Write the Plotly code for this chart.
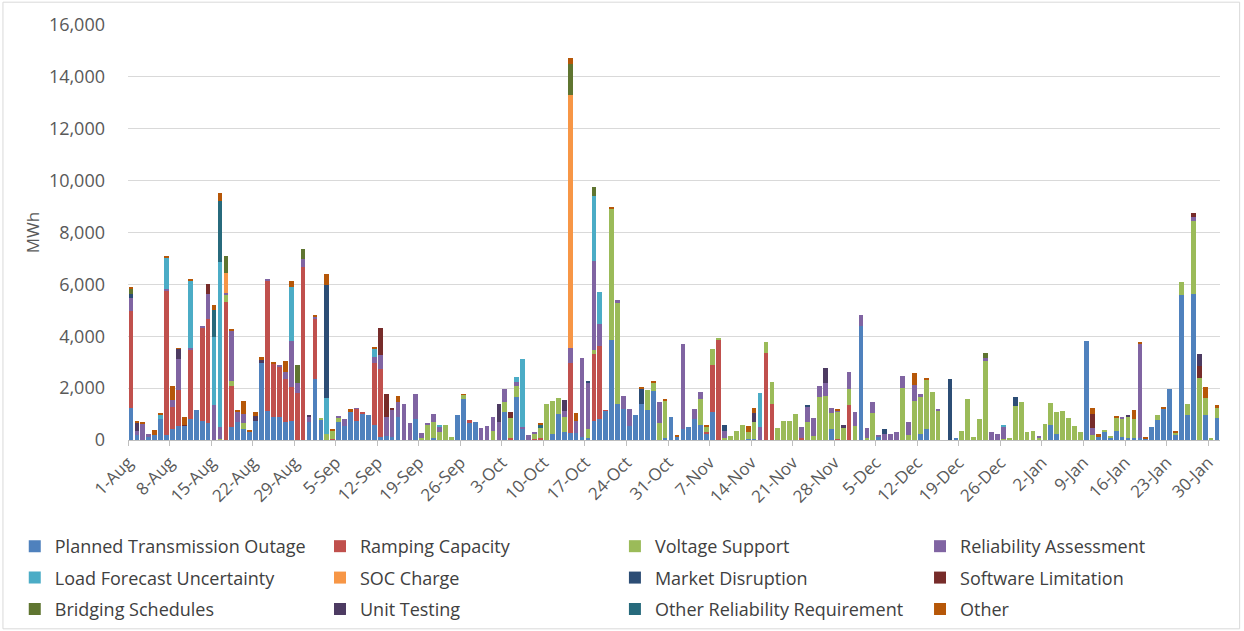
import pandas as pd
import plotly.graph_objects as go

# Daily dates, 1-Aug to 31-Jan (184 days)
dates = pd.date_range("2022-08-01", "2023-01-31", freq="D")

series_names = [
    "Planned Transmission Outage", "Ramping Capacity", "Voltage Support", "Reliability Assessment",
    "Load Forecast Uncertainty", "SOC Charge", "Market Disruption", "Software Limitation",
    "Bridging Schedules", "Unit Testing", "Other Reliability Requirement", "Other",
]
series_colors = [
    "#4F81BD", "#C0504D", "#9BBB59", "#8064A2", "#4BACC6", "#F79646",
    "#2C4D75", "#772C2A", "#5F7530", "#4D3B62", "#276A7C", "#B65708",
]

planned_transmission_outage = [
    1250, 200, 0, 100, 200, 800, 200,
    410, 550, 550, 800, 1160, 745, 640,
    0, 0, 0, 515, 700, 410, 330,
    745, 2980, 1120, 870, 870, 700, 745,
    0, 0, 700, 2350, 800, 0, 0,
    700, 540, 1070, 745, 1030, 950, 580,
    130, 170, 130, 870, 0, 0, 800,
    0, 0, 90, 0, 0, 0, 950,
    1570, 670, 700, 0, 0, 0, 0,
    1090, 0, 1645, 425, 0, 0, 0,
    0, 250, 990, 300, 280, 280, 130,
    90, 730, 800, 1120, 3855, 1375, 1195,
    550, 950, 1375, 1155, 1900, 0, 90,
    900, 100, 425, 490, 820, 580, 230,
    1090, 0, 0, 0, 0, 0, 50,
    40, 0, 0, 0, 0, 0, 0,
    0, 0, 0, 0, 0, 0, 410,
    0, 0, 0, 0, 4395, 0, 0,
    100, 0, 0, 0, 0, 0, 0,
    230, 425, 0, 0, 0, 0, 40,
    0, 0, 0, 0, 0, 0, 0,
    0, 0, 0, 0, 0, 0, 0,
    0, 580, 230, 0, 0, 0, 0,
    3830, 0, 100, 320, 90, 360, 100,
    90, 90, 60, 60, 515, 770, 1220,
    1965, 220, 5590, 965, 5630, 0, 965,
    0, 835,
]
ramping_capacity = [
    3720, 0, 0, 0, 0, 0, 5580,
    875, 1380, 0, 2670, 0, 3600, 4010,
    0, 0, 5330, 1565, 0, 0, 0,
    0, 0, 5010, 2080, 1950, 1670, 1310,
    1800, 6655, 0, 2300, 0, 0, 40,
    0, 0, 0, 450, 50, 0, 2380,
    2610, 0, 0, 0, 0, 0, 0,
    0, 0, 0, 0, 0, 0, 0,
    0, 100, 0, 0, 0, 0, 0,
    0, 60, 0, 0, 0, 50, 90,
    0, 0, 0, 0, 2670, 0, 0,
    0, 2570, 2840, 30, 0, 0, 0,
    0, 0, 0, 0, 0, 0, 0,
    0, 0, 0, 0, 0, 0, 90,
    1800, 3880, 0, 0, 0, 0, 0,
    0, 0, 3340, 1375, 0, 0, 0,
    0, 65, 0, 0, 0, 0, 0,
    40, 0, 1350, 0, 0, 0, 0,
    0, 0, 0, 0, 0, 0, 0,
    0, 0, 0, 0, 0, 0, 0,
    0, 0, 0, 0, 0, 0, 0,
    0, 0, 0, 0, 0, 0, 0,
    0, 0, 0, 0, 0, 0, 0,
    0, 0, 0, 0, 0, 0, 0,
    0, 0, 0, 0, 0, 0, 0,
    0, 0, 0, 0, 0, 0, 0,
    0, 0,
]
voltage_support = [
    0, 0, 0, 0, 0, 0, 0,
    0, 0, 0, 0, 0, 0, 0,
    0, 40, 260, 190, 0, 230, 0,
    0, 0, 0, 0, 0, 0, 0,
    0, 0, 0, 0, 60, 230, 320,
    170, 0, 0, 0, 0, 0, 0,
    0, 0, 0, 0, 0, 0, 0,
    60, 580, 610, 320, 580, 100, 0,
    170, 0, 0, 0, 0, 360, 0,
    385, 770, 450, 0, 0, 200, 360,
    1400, 1250, 630, 580, 0, 0, 0,
    320, 170, 0, 0, 5075, 3890, 0,
    0, 0, 0, 770, 320, 670, 1425,
    0, 0, 0, 0, 0, 990, 190,
    600, 65, 90, 170, 360, 580, 260,
    660, 0, 450, 875, 475, 745, 720,
    1015, 0, 700, 150, 1670, 1710, 645,
    1055, 475, 600, 550, 0, 90, 1055,
    0, 0, 0, 0, 1990, 190, 1500,
    1415, 1890, 1865, 1130, 0, 0, 0,
    360, 1580, 130, 800, 3060, 0, 0,
    40, 40, 1325, 1480, 320, 360, 90,
    615, 835, 860, 1120, 860, 550, 300,
    0, 190, 0, 40, 80, 515, 705,
    785, 720, 0, 0, 0, 190, 0,
    0, 65, 490, 410, 2830, 2380, 640,
    40, 385,
]
reliability_assessment = [
    490, 150, 620, 130, 0, 0, 50,
    260, 1180, 0, 60, 0, 60, 960,
    1350, 475, 90, 1970, 410, 360, 0,
    0, 0, 40, 0, 65, 260, 1760,
    385, 310, 170, 130, 0, 0, 0,
    40, 280, 0, 30, 0, 0, 255,
    540, 700, 1030, 600, 1390, 670, 980,
    220, 60, 300, 190, 0, 0, 0,
    0, 0, 0, 450, 540, 510, 700,
    475, 0, 150, 90, 180, 50, 0,
    0, 0, 0, 220, 600, 460, 3020,
    1770, 3440, 835, 0, 0, 150, 515,
    645, 0, 0, 0, 0, 810, 0,
    0, 0, 3265, 0, 360, 270, 0,
    0, 0, 270, 0, 0, 0, 0,
    0, 515, 0, 0, 0, 0, 0,
    0, 450, 600, 680, 425, 475, 165,
    60, 0, 680, 515, 425, 360, 425,
    90, 230, 230, 310, 490, 490, 615,
    130, 0, 0, 50, 0, 0, 0,
    0, 0, 0, 0, 90, 300, 220,
    480, 0, 0, 0, 0, 0, 65,
    0, 0, 0, 0, 0, 0, 0,
    0, 280, 0, 0, 0, 0, 90,
    0, 0, 3660, 0, 0, 0, 0,
    0, 0, 0, 0, 155, 0, 0,
    0, 0,
]
load_forecast_uncertainty = [
    0, 0, 0, 0, 0, 170, 1200,
    0, 0, 0, 2630, 0, 0, 0,
    2630, 6335, 0, 0, 0, 0, 0,
    0, 0, 0, 0, 0, 0, 2095,
    0, 0, 0, 0, 0, 1375, 0,
    0, 0, 0, 0, 0, 0, 320,
    0, 0, 0, 0, 0, 0, 0,
    0, 0, 0, 40, 0, 0, 0,
    0, 0, 0, 0, 0, 0, 0,
    0, 0, 170, 2620, 0, 0, 0,
    0, 0, 0, 0, 0, 0, 0,
    0, 2490, 1245, 0, 0, 0, 0,
    0, 0, 0, 0, 0, 0, 0,
    0, 0, 0, 0, 0, 0, 0,
    0, 0, 0, 0, 0, 0, 0,
    0, 1310, 0, 0, 0, 0, 0,
    0, 0, 0, 0, 0, 0, 0,
    0, 0, 0, 0, 0, 0, 0,
    0, 0, 0, 0, 0, 0, 0,
    0, 0, 0, 0, 0, 0, 0,
    0, 0, 0, 0, 0, 0, 0,
    20, 0, 0, 0, 0, 0, 0,
    0, 0, 0, 0, 0, 0, 0,
    0, 0, 0, 0, 0, 0, 0,
    0, 0, 0, 0, 0, 0, 0,
    0, 0, 0, 0, 0, 0, 0,
    0, 0,
]
soc_charge = [
    0, 0, 0, 0, 0, 0, 0,
    0, 0, 0, 0, 0, 0, 0,
    0, 0, 745, 0, 0, 0, 0,
    0, 0, 0, 0, 0, 0, 0,
    0, 0, 0, 0, 0, 0, 0,
    0, 0, 0, 0, 0, 0, 0,
    0, 0, 0, 0, 0, 0, 0,
    0, 0, 0, 0, 0, 0, 0,
    0, 0, 0, 0, 0, 0, 0,
    0, 0, 0, 0, 0, 0, 0,
    0, 0, 0, 0, 9740, 0, 0,
    0, 0, 0, 0, 0, 0, 0,
    0, 0, 0, 0, 0, 0, 0,
    0, 0, 0, 0, 0, 0, 0,
    0, 0, 0, 0, 0, 0, 0,
    0, 0, 0, 0, 0, 0, 0,
    0, 0, 0, 0, 0, 0, 0,
    0, 0, 0, 0, 0, 0, 0,
    0, 0, 0, 0, 0, 0, 0,
    0, 0, 0, 0, 0, 0, 0,
    0, 0, 0, 0, 0, 0, 0,
    0, 0, 0, 0, 0, 0, 0,
    0, 0, 0, 0, 0, 0, 0,
    0, 0, 0, 0, 0, 0, 0,
    0, 0, 0, 0, 0, 0, 0,
    0, 0, 0, 0, 0, 0, 0,
    0, 0,
]
market_disruption = [
    150, 0, 0, 0, 0, 0, 0,
    0, 0, 0, 0, 0, 0, 0,
    0, 0, 0, 0, 0, 0, 0,
    0, 0, 0, 0, 0, 0, 0,
    0, 0, 0, 0, 0, 4370, 0,
    0, 0, 0, 0, 0, 0, 0,
    0, 0, 0, 0, 0, 0, 0,
    0, 0, 0, 0, 0, 0, 0,
    0, 0, 0, 0, 0, 0, 0,
    0, 0, 0, 0, 0, 0, 0,
    0, 0, 0, 0, 0, 0, 0,
    90, 0, 0, 0, 0, 0, 0,
    0, 0, 615, 0, 0, 0, 0,
    0, 0, 0, 0, 0, 0, 0,
    0, 0, 220, 0, 0, 0, 0,
    0, 0, 0, 0, 0, 0, 0,
    0, 0, 50, 0, 0, 0, 0,
    0, 0, 0, 0, 0, 0, 0,
    0, 180, 0, 0, 0, 0, 0,
    0, 0, 0, 0, 0, 2350, 0,
    0, 0, 0, 0, 0, 0, 0,
    0, 0, 320, 0, 0, 0, 0,
    0, 0, 0, 0, 0, 0, 0,
    0, 0, 0, 0, 0, 0, 0,
    0, 0, 0, 0, 0, 0, 0,
    0, 0, 0, 0, 0, 0, 0,
    0, 0,
]
software_limitation = [
    0, 0, 0, 0, 0, 0, 0,
    0, 0, 30, 0, 0, 0, 400,
    0, 0, 0, 0, 0, 0, 0,
    0, 0, 0, 0, 0, 0, 0,
    0, 0, 0, 0, 0, 0, 0,
    0, 0, 0, 0, 0, 0, 0,
    1030, 890, 60, 0, 0, 0, 0,
    0, 0, 0, 0, 0, 0, 0,
    0, 0, 0, 0, 0, 0, 0,
    0, 260, 0, 0, 0, 0, 0,
    0, 0, 0, 0, 0, 0, 0,
    0, 0, 0, 0, 0, 0, 0,
    0, 0, 0, 0, 0, 0, 0,
    0, 0, 0, 0, 0, 0, 0,
    0, 0, 0, 0, 0, 0, 0,
    0, 0, 0, 0, 0, 0, 0,
    0, 0, 0, 0, 0, 0, 0,
    0, 0, 0, 0, 0, 0, 0,
    0, 0, 0, 0, 0, 0, 0,
    0, 0, 0, 0, 0, 0, 0,
    0, 0, 0, 0, 0, 0, 0,
    0, 0, 0, 0, 0, 0, 0,
    0, 0, 0, 0, 0, 0, 0,
    0, 525, 0, 0, 0, 0, 0,
    0, 0, 0, 0, 0, 0, 0,
    0, 0, 0, 0, 130, 490, 0,
    0, 0,
]
bridging_schedules = [
    220, 0, 0, 0, 0, 0, 0,
    0, 0, 0, 0, 0, 0, 0,
    0, 0, 670, 0, 0, 0, 0,
    0, 0, 0, 0, 0, 0, 0,
    690, 385, 0, 0, 0, 0, 0,
    0, 0, 0, 0, 0, 0, 0,
    0, 0, 0, 0, 0, 0, 0,
    0, 0, 0, 0, 0, 0, 0,
    0, 0, 0, 0, 0, 0, 0,
    0, 0, 0, 0, 0, 0, 0,
    0, 0, 0, 0, 1195, 0, 0,
    0, 360, 0, 0, 0, 0, 0,
    0, 0, 0, 0, 0, 0, 0,
    0, 0, 0, 0, 0, 0, 0,
    0, 0, 0, 0, 0, 0, 0,
    0, 0, 0, 0, 0, 0, 0,
    0, 0, 0, 0, 0, 0, 0,
    0, 0, 0, 0, 0, 0, 0,
    0, 0, 0, 0, 0, 0, 0,
    0, 0, 0, 0, 0, 0, 0,
    0, 0, 0, 0, 190, 0, 0,
    0, 0, 0, 0, 0, 0, 0,
    0, 0, 0, 0, 0, 0, 0,
    0, 0, 0, 0, 0, 0, 0,
    0, 0, 0, 0, 0, 0, 0,
    0, 0, 0, 0, 0, 0, 0,
    0, 0,
]
unit_testing = [
    0, 300, 0, 0, 0, 0, 0,
    0, 400, 0, 0, 0, 0, 0,
    0, 0, 0, 0, 0, 0, 0,
    190, 100, 0, 0, 0, 0, 0,
    0, 0, 90, 0, 0, 0, 0,
    0, 0, 0, 0, 0, 0, 0,
    0, 0, 0, 0, 0, 0, 0,
    0, 0, 0, 0, 0, 0, 0,
    0, 0, 0, 0, 0, 0, 670,
    0, 0, 0, 0, 0, 0, 0,
    0, 0, 0, 450, 0, 0, 0,
    0, 0, 0, 0, 0, 0, 0,
    0, 0, 0, 0, 0, 0, 0,
    0, 0, 0, 0, 0, 0, 0,
    0, 0, 0, 0, 0, 0, 0,
    350, 0, 0, 0, 0, 0, 0,
    0, 0, 0, 0, 0, 605, 0,
    0, 105, 0, 0, 0, 0, 0,
    0, 0, 0, 0, 0, 0, 0,
    0, 0, 0, 0, 0, 0, 0,
    0, 0, 0, 0, 0, 0, 0,
    0, 0, 0, 0, 0, 0, 0,
    0, 0, 0, 0, 0, 0, 0,
    0, 0, 0, 0, 0, 0, 0,
    90, 0, 0, 0, 0, 0, 0,
    0, 0, 0, 0, 0, 435, 0,
    0, 0,
]
other_reliability_requirement = [
    0, 0, 0, 0, 0, 0, 0,
    0, 0, 0, 0, 0, 0, 0,
    1050, 2380, 0, 0, 0, 0, 0,
    0, 0, 0, 0, 0, 0, 0,
    0, 0, 0, 0, 0, 0, 0,
    0, 0, 0, 0, 0, 0, 0,
    0, 0, 0, 0, 0, 0, 0,
    0, 0, 0, 0, 0, 0, 0,
    0, 0, 0, 0, 0, 0, 0,
    0, 0, 0, 0, 0, 0, 130,
    0, 0, 0, 0, 0, 0, 0,
    0, 0, 0, 0, 0, 0, 0,
    0, 0, 0, 0, 0, 0, 0,
    0, 0, 0, 0, 0, 0, 0,
    0, 0, 0, 0, 0, 0, 0,
    0, 0, 0, 0, 0, 0, 0,
    0, 0, 0, 0, 0, 0, 0,
    0, 0, 0, 0, 0, 0, 0,
    0, 0, 0, 0, 0, 0, 0,
    0, 0, 0, 0, 0, 0, 0,
    0, 0, 0, 0, 0, 0, 0,
    0, 0, 0, 0, 0, 0, 0,
    0, 0, 0, 0, 0, 0, 0,
    0, 0, 0, 0, 0, 0, 0,
    0, 0, 0, 0, 0, 0, 0,
    0, 0, 0, 0, 0, 0, 0,
    0, 0,
]
other = [
    50, 100, 80, 0, 200, 80, 40,
    550, 30, 290, 60, 0, 0, 0,
    170, 280, 0, 30, 40, 515, 30,
    130, 130, 0, 30, 0, 425, 230,
    0, 0, 0, 40, 0, 425, 50,
    0, 0, 140, 0, 0, 0, 30,
    0, 0, 0, 220, 0, 0, 0,
    0, 0, 0, 0, 0, 0, 0,
    30, 0, 0, 0, 0, 0, 0,
    0, 0, 0, 0, 0, 0, 60,
    0, 0, 0, 0, 230, 310, 0,
    0, 0, 0, 0, 60, 0, 0,
    0, 0, 65, 0, 50, 0, 65,
    0, 90, 0, 0, 0, 0, 30,
    0, 0, 0, 0, 0, 0, 230,
    190, 0, 0, 0, 0, 0, 0,
    0, 0, 0, 0, 0, 0, 0,
    40, 0, 0, 0, 0, 0, 0,
    0, 0, 0, 0, 0, 0, 475,
    0, 40, 0, 0, 0, 0, 0,
    0, 0, 0, 0, 0, 0, 0,
    0, 0, 0, 0, 0, 0, 0,
    0, 0, 0, 0, 0, 0, 0,
    0, 220, 130, 0, 0, 50, 0,
    0, 345, 45, 30, 0, 0, 65,
    0, 65, 0, 0, 0, 0, 450,
    0, 130,
]

series_values = [
    planned_transmission_outage, ramping_capacity, voltage_support, reliability_assessment,
    load_forecast_uncertainty, soc_charge, market_disruption, software_limitation,
    bridging_schedules, unit_testing, other_reliability_requirement, other,
]

FONT = "Open Sans"
TXT = "#595959"
legend_ids = ["legend", "legend2", "legend3", "legend4"]

fig = go.Figure()
for i, (name, color, vals) in enumerate(zip(series_names, series_colors, series_values)):
    fig.add_trace(go.Bar(
        x=dates, y=vals, name=name,
        marker=dict(color=color, line=dict(width=0)),
        xperiod=86400000, xperiodalignment="middle",
        legend=legend_ids[i % 4], legendgroup=name,
    ))

legend_x = [-0.1037, 0.1758, 0.4459, 0.7253]
legend_common = dict(
    orientation="v", xanchor="left", y=-0.212, yanchor="top",
    font=dict(family=FONT, size=18, color="#404040"),
    traceorder="grouped", itemwidth=30, tracegroupgap=5,
    bgcolor="rgba(0,0,0,0)",
)
layout_legends = {lid: dict(x=lx, **legend_common) for lid, lx in zip(legend_ids, legend_x)}

fig.update_layout(
    barmode="stack",
    bargap=0.2,
    width=1244, height=631,
    paper_bgcolor="white", plot_bgcolor="white",
    margin=dict(l=128, r=24, t=25, b=191, autoexpand=False),
    font=dict(family=FONT, size=17, color=TXT),
    showlegend=True,
    **layout_legends,
)
fig.update_xaxes(
    type="date", automargin=False,
    range=[dates[0], dates[-1] + pd.Timedelta(days=1)],
    tick0=dates[0], dtick=7 * 86400000, tickformat="%-d-%b",
    tickangle=-45, ticks="outside", ticklen=5, tickcolor="#bfbfbf",
    showline=True, linecolor="#bfbfbf", linewidth=1,
    showgrid=False, tickfont=dict(size=17, color=TXT),
)
fig.update_yaxes(
    automargin=False,
    range=[0, 16000], dtick=2000, tickformat=",",
    showgrid=True, gridcolor="#d9d9d9", gridwidth=1,
    zeroline=False, showline=False, ticks="", ticklabelstandoff=22,
    title=dict(text="MWh", font=dict(size=17, color=TXT), standoff=4),
    tickfont=dict(size=18, color=TXT),
)
fig.add_shape(type="rect", xref="paper", yref="paper",
              x0=-0.1145, x1=1.018, y0=-0.455, y1=1.055,
              line=dict(color="#d9d9d9", width=1), fillcolor="rgba(0,0,0,0)", layer="below")

fig.write_html("out.html", config={"displayModeBar": False},
               post_script="document.body.style.margin='0';")
